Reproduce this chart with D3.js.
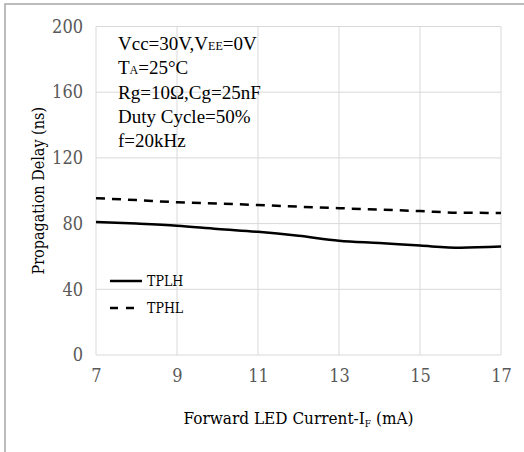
<!DOCTYPE html>
<html>
<head>
<meta charset="utf-8">
<script src="https://cdn.jsdelivr.net/npm/d3@7"></script>
<style>
  body { margin: 0; background: #fff; }
  svg { display: block; }
</style>
</head>
<body>
<svg id="chart"></svg>
<script>
// data
var current = [7, 8, 9, 10, 11, 12, 13, 14, 15, 16, 17]
var tplh = [81, 80, 78.7, 76.7, 75, 72.6, 69.6, 68.2, 66.6, 65.3, 66]
var tphl = [95.5, 94.3, 93, 92.2, 91.3, 90.3, 89.4, 88.5, 87.6, 86.6, 86.5]
var xTicks = [7, 9, 11, 13, 15, 17]
var yTicks = [0, 40, 80, 120, 160, 200]
var notes = [
  ["Vcc=30V,V", "EE", "=0V"],
  ["T", "A", "=25°C"],
  ["Rg=10Ω,Cg=25nF"],
  ["Duty Cycle=50%"],
  ["f=20kHz"]
]

var dd = {
  width: 524,
  height: 452,
  margin: { top: 26.5, bottom: 97, right: 23, left: 96 }
}

var svg = d3.select("#chart")
  .attr("width", dd.width)
  .attr("height", dd.height)

// outer frame (cut off at right/bottom in the picture)
svg.append("rect")
  .attr("x", 5).attr("y", 4)
  .attr("width", 700).attr("height", 700)
  .attr("fill", "none")
  .attr("stroke", "#a6a6a6")
  .attr("stroke-width", 1.5)

var xScale = d3.scaleLinear().domain([7, 17]).range([dd.margin.left, dd.width - dd.margin.right])
var yScale = d3.scaleLinear().domain([0, 200]).range([dd.height - dd.margin.bottom, dd.margin.top])

var axisFont = "DejaVu Serif Condensed"
var noteFont = "Liberation Serif"

// gridlines
svg.append("g")
  .selectAll("line")
  .data(yTicks)
  .enter().append("line")
  .attr("x1", xScale(7)).attr("x2", xScale(17))
  .attr("y1", function(d) { return yScale(d) }).attr("y2", function(d) { return yScale(d) })
  .attr("stroke", "#d9d9d9").attr("stroke-width", 1)

svg.append("g")
  .selectAll("line")
  .data(xTicks)
  .enter().append("line")
  .attr("x1", function(d) { return xScale(d) }).attr("x2", function(d) { return xScale(d) })
  .attr("y1", yScale(0)).attr("y2", yScale(200))
  .attr("stroke", "#d9d9d9").attr("stroke-width", 1)

// axes with text only
var xAxisGen = d3.axisBottom(xScale).tickValues(xTicks).tickSize(0).tickPadding(14)
var xAxis = svg.append("g")
  .attr("transform", "translate(0," + yScale(0) + ")")
  .call(xAxisGen)
  .attr("font-family", axisFont)
  .attr("font-size", 18)
xAxis.select(".domain").remove()
xAxis.selectAll("text").attr("fill", "#595959")

var yAxisGen = d3.axisLeft(yScale).tickValues(yTicks).tickSize(0).tickPadding(13)
var yAxis = svg.append("g")
  .attr("transform", "translate(" + dd.margin.left + ",0)")
  .call(yAxisGen)
  .attr("font-family", axisFont)
  .attr("font-size", 18)
yAxis.select(".domain").remove()
yAxis.selectAll("text").attr("fill", "#595959")

// axis titles
svg.append("text")
  .attr("x", (xScale(7) + xScale(17)) / 2)
  .attr("y", 424)
  .attr("text-anchor", "middle")
  .attr("font-family", axisFont)
  .attr("font-size", 17)
  .attr("fill", "#000")
  .call(function(t) {
    t.append("tspan").text("Forward LED Current-I")
    t.append("tspan").text("F").attr("font-size", 10).attr("dy", 3)
    t.append("tspan").text(" (mA)").attr("dy", -3)
  })

svg.append("text")
  .attr("transform", "translate(44," + (yScale(0) + yScale(200)) / 2 + ") rotate(-90)")
  .attr("text-anchor", "middle")
  .attr("font-family", axisFont)
  .attr("font-size", 16)
  .attr("fill", "#000")
  .text("Propagation Delay (ns)")

// series
var line = d3.line()
  .x(function(d) { return xScale(d[0]) })
  .y(function(d) { return yScale(d[1]) })
  .curve(d3.curveMonotoneX)

svg.append("path")
  .datum(d3.zip(current, tplh))
  .attr("d", line)
  .attr("fill", "none")
  .attr("stroke", "#000")
  .attr("stroke-width", 2.5)

svg.append("path")
  .datum(d3.zip(current, tphl))
  .attr("d", line)
  .attr("fill", "none")
  .attr("stroke", "#000")
  .attr("stroke-width", 2.5)
  .attr("stroke-dasharray", "9,7")

// legend
var legendKeys = [["TPLH", null], ["TPHL", "8,8"]]
var legend = svg.append("g")
  .selectAll("g")
  .data(legendKeys)
  .enter().append("g")
  .attr("transform", function(d, i) { return "translate(110," + (281 + i * 27) + ")" })

legend.append("line")
  .attr("x1", 0).attr("x2", 32)
  .attr("stroke", "#000").attr("stroke-width", 2.5)
  .attr("stroke-dasharray", function(d) { return d[1] })

legend.append("text")
  .attr("x", 37).attr("dy", "0.35em")
  .attr("font-family", axisFont)
  .attr("font-size", 14)
  .attr("fill", "#000")
  .text(function(d) { return d[0] })

// condition notes
var noteText = svg.append("g")
  .selectAll("text")
  .data(notes)
  .enter().append("text")
  .attr("x", 118)
  .attr("y", function(d, i) { return 50 + i * 24.3 })
  .attr("font-family", noteFont)
  .attr("font-size", 19)
  .attr("fill", "#000")

noteText.each(function(d) {
  var t = d3.select(this)
  t.append("tspan").text(d[0])
  if (d.length > 1) {
    t.append("tspan").text(d[1]).attr("font-size", 12)
    t.append("tspan").text(d[2])
  }
})
</script>
</body>
</html>
